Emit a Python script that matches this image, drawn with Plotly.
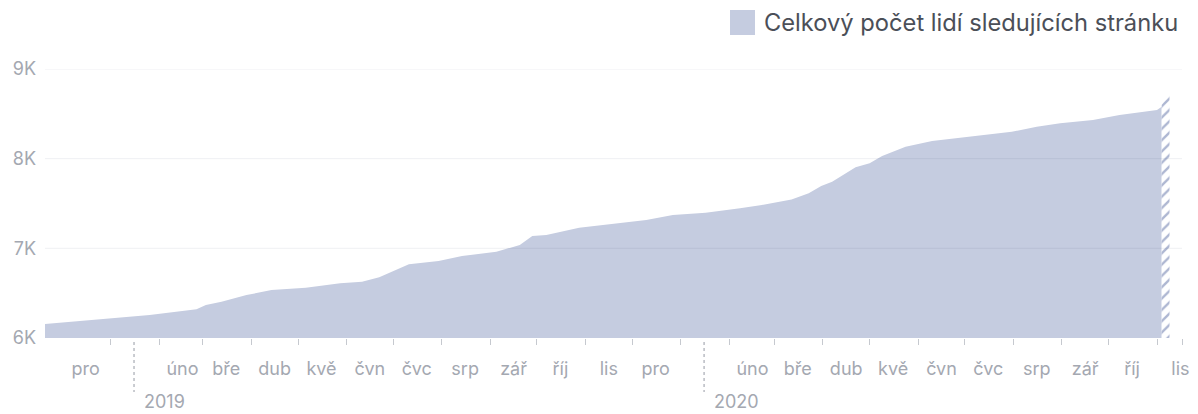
import plotly.graph_objects as go
import pandas as pd

# --- data ---
dates = ["2018-11-20", "2018-12-29", "2019-01-26", "2019-02-25", "2019-03-03",
         "2019-03-13", "2019-03-29", "2019-04-14", "2019-05-06", "2019-05-28",
         "2019-06-11", "2019-06-22", "2019-07-03", "2019-07-11", "2019-07-30",
         "2019-08-14", "2019-09-05", "2019-09-20", "2019-09-28", "2019-10-07",
         "2019-10-28", "2019-11-18", "2019-12-10", "2019-12-27", "2020-01-17",
         "2020-02-08", "2020-02-22", "2020-03-12", "2020-03-23", "2020-03-31",
         "2020-04-07", "2020-04-22", "2020-05-01", "2020-05-09", "2020-05-24",
         "2020-06-10", "2020-07-04", "2020-07-31", "2020-08-16", "2020-08-31",
         "2020-09-21", "2020-10-08", "2020-11-01", "2020-11-04"]
followers = [6156, 6212, 6256, 6320, 6368, 6405, 6479, 6535, 6561, 6610,
             6628, 6677, 6766, 6822, 6858, 6914, 6962, 7037, 7137, 7148,
             7230, 7271, 7315, 7371, 7397, 7446, 7483, 7546, 7613, 7695,
             7742, 7903, 7948, 8029, 8133, 8196, 8244, 8300, 8356, 8394,
             8430, 8486, 8542, 8580]

partial_dates = ["2020-11-04", "2020-11-08", "2020-11-09"]
partial_values = [8600, 8700, 8710]

month_names = ["led", "úno", "bře", "dub", "kvě", "čvn",
               "čvc", "srp", "zář", "říj", "lis", "pro"]
month_starts = pd.date_range("2018-12-01", "2020-11-01", freq="MS")
years = [2019, 2020]

y_ticks = [6000, 7000, 8000, 9000]
y_labels = ["6K", "7K", "8K", "9K"]

series_name = "Celkový počet lidí sledujících stránku"

# --- styles ---
FILL = "#c5cce0"
LABEL = "#a4a8b1"
FONT = "Inter"

# month label positions (mid-month), January replaced by year marker
tick_vals, tick_text = [], []
for m in month_starts:
    if m.month == 1:
        continue
    tick_vals.append((m + pd.Timedelta(days=15)).strftime("%Y-%m-%d"))
    tick_text.append(month_names[m.month - 1])

x_range = ["2018-11-20", "2020-11-17"]
minor_vals = [m.strftime("%Y-%m-%d") for m in month_starts if m >= pd.Timestamp("2019-01-01")]
minor_vals.append(x_range[1])

fig = go.Figure()
fig.add_trace(go.Scatter(
    x=dates, y=followers, mode="lines", fill="tozeroy",
    line=dict(width=0, color=FILL), fillcolor=FILL,
    name=series_name, showlegend=False, hoverinfo="skip"))
fig.add_trace(go.Scatter(
    x=partial_dates, y=partial_values, mode="lines", fill="tozeroy",
    line=dict(width=0, color=FILL),
    fillpattern=dict(shape="/", fgcolor="#aeb7d2", bgcolor="white",
                     size=8, solidity=0.3, fillmode="replace"),
    showlegend=False, hoverinfo="skip"))

shapes = []
for yv in y_ticks[1:]:
    shapes.append(dict(type="line", xref="paper", yref="y", x0=0, x1=1,
                       y0=yv, y1=yv, layer="above",
                       line=dict(color="rgba(30,40,80,0.07)", width=1)))

annotations = []
for yr in years:
    xpos = f"{yr}-01-16"
    shapes.append(dict(type="line", xref="x", yref="paper",
                       ysizemode="pixel", yanchor=0,
                       x0=xpos, x1=xpos, y0=-4, y1=-54,
                       line=dict(color="#b9bcc3", width=1.5, dash="dot")))
    annotations.append(dict(x=xpos, xref="x", y=0, yref="paper",
                            xanchor="left", yanchor="middle",
                            xshift=8, yshift=-63, showarrow=False,
                            text=str(yr), font=dict(family=FONT, size=18, color=LABEL)))

# legend (manual)
shapes.append(dict(type="rect", xref="paper", yref="paper",
                   xsizemode="pixel", ysizemode="pixel", xanchor=1, yanchor=1,
                   x0=-452, x1=-427, y0=59, y1=34,
                   fillcolor=FILL, line=dict(width=0)))
annotations.append(dict(x=1, xref="paper", y=1, yref="paper",
                        xanchor="right", yanchor="middle",
                        xshift=-2, yshift=47, showarrow=False,
                        text=series_name,
                        font=dict(family=FONT, size=23.7, color="#4b4f58")))

# the page body adds an 8px offset, so margins are shifted to compensate
fig.update_layout(
    width=1198, height=414,
    margin=dict(l=37, r=24, t=61, b=84),
    paper_bgcolor="white", plot_bgcolor="white",
    showlegend=False,
    shapes=shapes, annotations=annotations,
    xaxis=dict(type="date", range=x_range, showgrid=False, zeroline=False,
               showline=False, tickmode="array", tickvals=tick_vals,
               ticktext=tick_text, ticks="", ticklabelstandoff=18,
               automargin=False,
               tickfont=dict(family=FONT, size=18, color=LABEL),
               minor=dict(tickmode="array", tickvals=minor_vals, ticks="outside",
                          ticklen=6, tickwidth=1, tickcolor="#c6c9cf", showgrid=False)),
    yaxis=dict(range=[6000, 9000], tickmode="array", tickvals=y_ticks,
               ticktext=y_labels, showgrid=False, zeroline=False, showline=False,
               ticks="", ticklabelstandoff=8, automargin=False,
               tickfont=dict(family=FONT, size=18, color=LABEL)),
)

fig.write_html("out.html")
